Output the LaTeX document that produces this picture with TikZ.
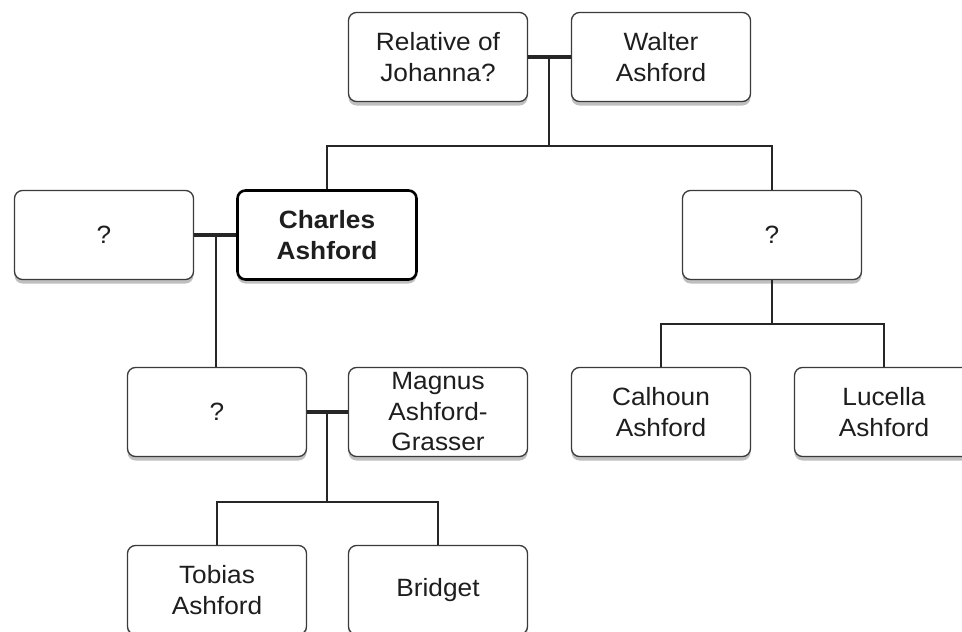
\documentclass[tikz,border=0pt]{standalone}
\usepackage{fontspec}
\setmainfont{Liberation Sans}[FakeStretch=1.05]
\usetikzlibrary{shadows}
\definecolor{boxline}{HTML}{3A3A3A}
\definecolor{txt}{HTML}{1E1E1E}
\tikzset{
  person/.style={draw=boxline, line width=1.3pt, fill=white, rounded corners=8pt,
    minimum width=179pt, minimum height=89pt, align=center, text=txt,
    font=\fontsize{25}{30.5}\selectfont, inner sep=0pt,
    drop shadow={shadow xshift=0pt, shadow yshift=-4pt, opacity=0.25, fill=black}},
  focus/.style={person, line width=2.6pt, draw=black, font=\fontsize{25}{30.5}\selectfont\bfseries},
  link/.style={draw=black!85, line width=1.6pt},
  wed/.style={draw=black!85, line width=3.6pt}
}
\begin{document}
\begin{tikzpicture}[x=1pt,y=-1pt]
\clip (0,0) rectangle (962,632);
\fill[white] (0,0) rectangle (962,632);
% nodes
\node[person] (rel) at (438,57) {Relative of\\Johanna?};
\node[person] (wal) at (661,57) {Walter\\Ashford};
\node[person] (q1) at (104,235) {?};
\node[focus] (cha) at (327,235) {Charles\\Ashford};
\node[person] (q2) at (772,235) {?};
\node[person] (q3) at (217,412) {?};
\node[person] (mag) at (438,412) {Magnus\\Ashford-\\Grasser};
\node[person] (cal) at (661,412) {Calhoun\\Ashford};
\node[person] (luc) at (884,412) {Lucella\\Ashford};
\node[person] (tob) at (217,590) {Tobias\\Ashford};
\node[person] (bri) at (438,590) {Bridget};
% junction points
\coordinate (m1) at (549,57);
\coordinate (j1) at (549,146);
\coordinate (m2) at (216,235);
\coordinate (j2) at (772,324);
\coordinate (m3) at (327,412);
\coordinate (j3) at (327,502);
% connectors
\draw[link] (m1) -- (j1);
\draw[link] (cha.north) |- (j1) -| (q2.north);
\draw[link] (m2) -- (m2 |- q3.north);
\draw[link] (q2.south) -- (j2);
\draw[link] (cal.north) |- (j2) -| (luc.north);
\draw[link] (m3) -- (j3);
\draw[link] (tob.north) |- (j3) -| (bri.north);
% marriage lines
\draw[wed] (rel.east) -- (wal.west);
\draw[wed] (q1.east) -- (cha.west);
\draw[wed] (q3.east) -- (mag.west);
\end{tikzpicture}
\end{document}
